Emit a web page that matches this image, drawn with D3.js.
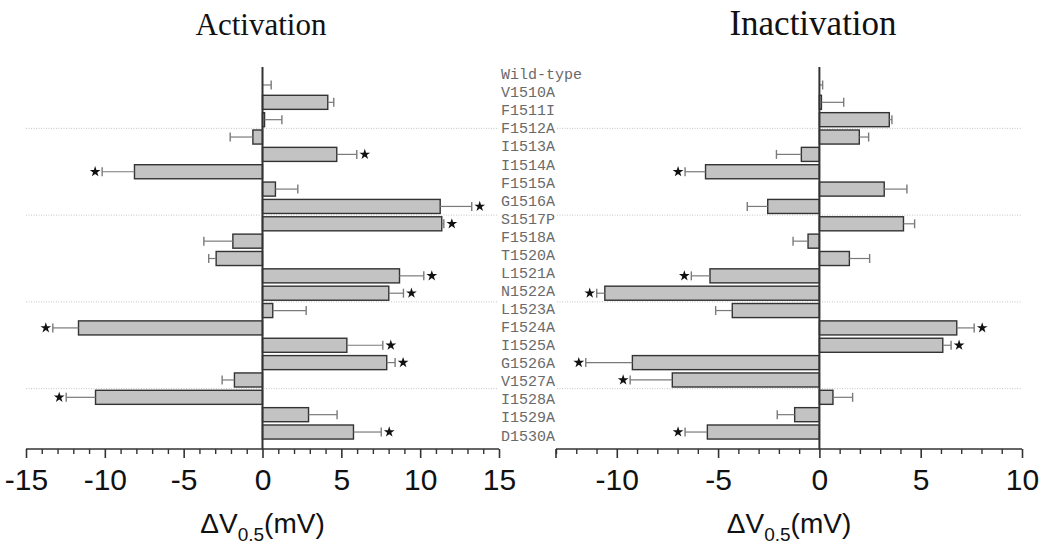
<!DOCTYPE html>
<html>
<head>
<meta charset="utf-8">
<script src="https://cdn.jsdelivr.net/npm/d3@7/dist/d3.min.js"></script>
<style>
  body { margin: 0; background: #fff; }
  svg { display: block; }
</style>
</head>
<body>
<svg id="chart" width="1050" height="549"></svg>
<script>
// ---------- DATA ----------
const categories = ["Wild-type","V1510A","F1511I","F1512A","I1513A","I1514A","F1515A","G1516A","S1517P","F1518A","T1520A","L1521A","N1522A","L1523A","F1524A","I1525A","G1526A","V1527A","I1528A","I1529A","D1530A"];

const activationValues = [0, 4.14, 0.13, -0.61, 4.71, -8.12, 0.82, 11.27, 11.37, -1.88, -2.94, 8.69, 8.01, 0.65, -11.67, 5.35, 7.88, -1.78, -10.59, 2.92, 5.77];
const activationErrors = [0.55, 0.38, 1.1, 1.44, 1.27, 2.05, 1.42, 2.0, 0.13, 1.84, 0.47, 1.54, 0.93, 2.12, 1.63, 2.28, 0.53, 0.78, 1.86, 1.81, 1.76];
const activationSignif = [0,0,0,0,1,1,0,1,1,0,0,1,1,0,1,1,1,0,1,0,1];

const inactivationValues = [0, 0.1, 3.45, 1.97, -0.89, -5.62, 3.2, -2.55, 4.15, -0.56, 1.48, -5.4, -10.59, -4.3, 6.78, 6.09, -9.23, -7.26, 0.67, -1.22, -5.53];
const inactivationErrors = [0.16, 1.1, 0.13, 0.46, 1.23, 1.01, 1.12, 1.01, 0.55, 0.74, 1.0, 0.92, 0.4, 0.82, 0.86, 0.41, 2.3, 2.08, 0.97, 0.86, 1.1];
const inactivationSignif = [0,0,0,0,0,1,0,0,0,0,0,1,1,0,1,1,1,1,0,0,1];

const activationTicks = [-15, -10, -5, 0, 5, 10, 15];
const inactivationTicks = [-10, -5, 0, 5, 10];
const groupBoundaries = [2.5, 7.5, 12.5, 17.5]; // gridlines between every five rows

// ---------- LAYOUT ----------
const svg = d3.select("#chart");
const axisY = 449;
const zeroTop = 67;

const xLeft = d3.scaleLinear().domain([-15, 15]).range([26, 499]);
const xRight = d3.scaleLinear().domain([-13, 10]).range([556, 1022]);

const yBand = d3.scaleBand().domain(categories).range([76.3, 440.7])
  .paddingInner(0.19).paddingOuter(0.095);
const yLabel = d3.scalePoint().domain(categories).range([75.7, 437]);
const rowY = k => yBand.range()[0] + yBand.step() * (k + 0.5);

// ---------- GRIDLINES ----------
function gridlines(x0, x1) {
  svg.append("g").selectAll("line").data(groupBoundaries).join("line")
    .attr("x1", x0).attr("x2", x1)
    .attr("y1", d => rowY(d)).attr("y2", d => rowY(d))
    .attr("stroke", "#c4c4c4").attr("stroke-width", 1)
    .attr("stroke-dasharray", "1,1.5");
}
gridlines(26, 497);
gridlines(557, 1022);

// ---------- PANEL ----------
function panel(x, values, errors, signif, ticks, minorDomain) {
  const g = svg.append("g");
  const data = categories.map((c, i) => ({c, v: values[i], e: errors[i], s: signif[i]}));

  // bars
  g.selectAll("rect.bar").data(data.filter(d => d.v !== 0)).join("rect")
    .attr("class", "bar")
    .attr("x", d => Math.min(x(0), x(d.v)))
    .attr("width", d => Math.abs(x(d.v) - x(0)))
    .attr("y", d => yBand(d.c))
    .attr("height", yBand.bandwidth())
    .attr("fill", "#c3c3c3")
    .attr("stroke", "#333")
    .attr("stroke-width", 1.4);

  // error bars (one-sided, away from zero)
  const end = d => d.v >= 0 ? d.v + d.e : d.v - d.e;
  const cy = d => yBand(d.c) + yBand.bandwidth() / 2;
  g.selectAll("line.err").data(data).join("line")
    .attr("class", "err")
    .attr("x1", d => x(d.v)).attr("x2", d => x(end(d)))
    .attr("y1", cy).attr("y2", cy)
    .attr("stroke", "#7a7a7a").attr("stroke-width", 1.2);
  g.selectAll("line.cap").data(data).join("line")
    .attr("class", "cap")
    .attr("x1", d => x(end(d))).attr("x2", d => x(end(d)))
    .attr("y1", d => cy(d) - 4.5).attr("y2", d => cy(d) + 4.5)
    .attr("stroke", "#7a7a7a").attr("stroke-width", 1.4);

  // significance stars
  const star = d3.symbol().type(d3.symbolStar).size(36);
  g.selectAll("path.star").data(data.filter(d => d.s)).join("path")
    .attr("class", "star")
    .attr("d", star)
    .attr("transform", d => `translate(${x(end(d)) + (d.v >= 0 ? 8 : -7)},${cy(d)})`)
    .attr("fill", "#111");

  // zero line
  g.append("line")
    .attr("x1", x(0)).attr("x2", x(0))
    .attr("y1", zeroTop).attr("y2", axisY)
    .attr("stroke", "#333").attr("stroke-width", 2);

  // axis
  const minor = d3.range(minorDomain[0], minorDomain[1] + 1, 1).filter(t => t % 5 !== 0);
  const axisMajor = d3.axisBottom(x).tickValues(ticks).tickSize(9).tickFormat(d3.format("d"));
  const gA = g.append("g").attr("transform", `translate(0,${axisY})`).call(axisMajor);
  gA.select(".domain").attr("stroke", "#333").attr("stroke-width", 1.6)
    .attr("d", `M${x.range()[0]},0H${x.range()[1]}`);
  gA.selectAll(".tick line").attr("stroke", "#333").attr("stroke-width", 1.6);
  gA.selectAll(".tick text")
    .attr("font-family", "Liberation Sans, Arial, sans-serif")
    .attr("font-size", 30).attr("fill", "#111").attr("dy", "0.96em")
    .text(d => d < 0 ? "-" + Math.abs(d) : d);
  const gMinor = g.append("g").attr("transform", `translate(0,${axisY})`)
    .call(d3.axisBottom(x).tickValues(minor).tickSize(5).tickFormat(""));
  gMinor.select(".domain").remove();
  gMinor.selectAll(".tick line").attr("stroke", "#333").attr("stroke-width", 1.4);
  if (minorDomain[0] % 5 !== 0) {
    g.append("line").attr("x1", x(minorDomain[0])).attr("x2", x(minorDomain[0]))
      .attr("y1", axisY).attr("y2", axisY + 9).attr("stroke", "#333").attr("stroke-width", 1.6);
  }

  // axis title
  const mid = (x.range()[0] + x.range()[1]) / 2;
  const t = g.append("text")
    .attr("x", mid).attr("y", 533)
    .attr("text-anchor", "middle")
    .attr("font-family", "Liberation Sans, Arial, sans-serif")
    .attr("font-size", 28).attr("fill", "#111");
  t.append("tspan").text("ΔV");
  t.append("tspan").attr("font-size", 19).attr("dy", 8).text("0.5");
  t.append("tspan").attr("dy", -8).text("(mV)");
}

panel(xLeft, activationValues, activationErrors, activationSignif, activationTicks, [-15, 15]);
panel(xRight, inactivationValues, inactivationErrors, inactivationSignif, inactivationTicks, [-13, 10]);

// ---------- CATEGORY LABELS ----------
svg.append("g").selectAll("text").data(categories).join("text")
  .attr("x", 501).attr("y", d => yLabel(d))
  .attr("dominant-baseline", "central")
  .attr("font-family", "Liberation Mono, Courier New, monospace")
  .attr("font-size", 15).attr("fill", "#6a6a6a")
  .text(d => d);

// ---------- PANEL TITLES ----------
svg.append("text").attr("x", 261).attr("y", 35).attr("text-anchor", "middle")
  .attr("font-family", "Liberation Serif, Times New Roman, serif")
  .attr("font-size", 31).attr("fill", "#111").text("Activation");
svg.append("text").attr("x", 813).attr("y", 35).attr("text-anchor", "middle")
  .attr("font-family", "Liberation Serif, Times New Roman, serif")
  .attr("font-size", 35).attr("fill", "#111").text("Inactivation");
</script>
</body>
</html>
